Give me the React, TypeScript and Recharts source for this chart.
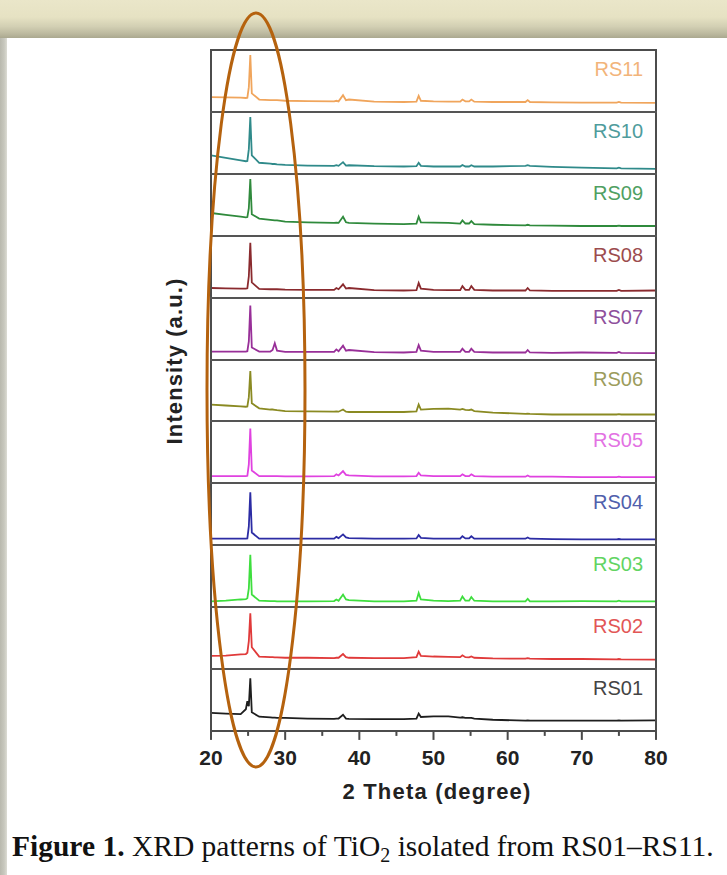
import React from 'react';
import { LineChart, Line, XAxis, YAxis } from 'recharts';

// 2θ sampling positions (degree)
const twoTheta = [
  20, 22, 24, 24.7, 24.9, 25.1, 25.3, 25.5,
  26.5, 28, 28.3, 28.6, 28.9, 30, 33,
  36.6, 36.9, 37.2, 37.8, 38.2, 38.6, 42, 46,
  47.7, 48.0, 48.3, 50, 52, 53.6, 53.9, 54.3, 54.8, 55.1, 55.5,
  58, 62.4, 62.7, 63.0, 66, 70, 74.7, 75.0, 75.3, 80,
];

// normalised intensities (fraction of each panel)
const rs11 = [
  0.24, 0.235, 0.23, 0.225, 0.23, 0.40, 0.92, 0.30,
  0.20, 0.19, 0.19, 0.19, 0.19, 0.18, 0.175,
  0.17, 0.18, 0.17, 0.27, 0.19, 0.20, 0.165, 0.16,
  0.165, 0.26, 0.18, 0.17, 0.165, 0.165, 0.20, 0.17, 0.17, 0.20, 0.165,
  0.16, 0.16, 0.19, 0.16, 0.155, 0.15, 0.15, 0.16, 0.15, 0.145,
];
const rs10 = [
  0.30, 0.26, 0.22, 0.205, 0.21, 0.40, 0.92, 0.30,
  0.18, 0.165, 0.16, 0.16, 0.155, 0.145, 0.135,
  0.13, 0.14, 0.13, 0.19, 0.135, 0.14, 0.125, 0.12,
  0.125, 0.18, 0.13, 0.12, 0.12, 0.12, 0.145, 0.12, 0.12, 0.14, 0.12,
  0.12, 0.13, 0.14, 0.13, 0.115, 0.10, 0.09, 0.10, 0.09, 0.08,
];
const rs09 = [
  0.37, 0.34, 0.31, 0.30, 0.305, 0.45, 0.92, 0.35,
  0.28, 0.26, 0.255, 0.25, 0.25, 0.23, 0.22,
  0.21, 0.215, 0.21, 0.31, 0.22, 0.21, 0.20, 0.19,
  0.20, 0.31, 0.22, 0.215, 0.21, 0.20, 0.25, 0.20, 0.20, 0.24, 0.19,
  0.18, 0.17, 0.18, 0.17, 0.165, 0.16, 0.16, 0.165, 0.16, 0.16,
];
const rs08 = [
  0.16, 0.155, 0.15, 0.15, 0.155, 0.35, 0.89, 0.25,
  0.145, 0.14, 0.14, 0.14, 0.14, 0.135, 0.13,
  0.13, 0.16, 0.14, 0.22, 0.15, 0.16, 0.125, 0.12,
  0.125, 0.24, 0.15, 0.13, 0.125, 0.125, 0.19, 0.13, 0.13, 0.19, 0.13,
  0.12, 0.12, 0.16, 0.12, 0.115, 0.115, 0.115, 0.13, 0.115, 0.12,
];
const rs07 = [
  0.135, 0.135, 0.135, 0.135, 0.14, 0.30, 0.88, 0.20,
  0.135, 0.135, 0.16, 0.27, 0.15, 0.13, 0.13,
  0.13, 0.17, 0.14, 0.23, 0.15, 0.16, 0.125, 0.12,
  0.13, 0.24, 0.15, 0.13, 0.13, 0.13, 0.18, 0.13, 0.13, 0.18, 0.13,
  0.12, 0.12, 0.16, 0.12, 0.115, 0.12, 0.115, 0.13, 0.115, 0.11,
];
const rs06 = [
  0.28, 0.265, 0.25, 0.245, 0.25, 0.40, 0.82, 0.30,
  0.22, 0.20, 0.20, 0.195, 0.19, 0.175, 0.17,
  0.165, 0.17, 0.165, 0.20, 0.165, 0.16, 0.16, 0.16,
  0.17, 0.28, 0.20, 0.21, 0.215, 0.20, 0.21, 0.195, 0.19, 0.20, 0.175,
  0.15, 0.13, 0.135, 0.13, 0.12, 0.12, 0.12, 0.125, 0.12, 0.12,
];
const rs05 = [
  0.11, 0.11, 0.11, 0.11, 0.115, 0.30, 0.88, 0.20,
  0.11, 0.11, 0.11, 0.11, 0.11, 0.105, 0.105,
  0.11, 0.14, 0.12, 0.19, 0.13, 0.12, 0.105, 0.105,
  0.11, 0.165, 0.12, 0.11, 0.11, 0.11, 0.14, 0.11, 0.11, 0.14, 0.11,
  0.10, 0.10, 0.12, 0.10, 0.10, 0.095, 0.095, 0.10, 0.095, 0.095,
];
const rs04 = [
  0.10, 0.10, 0.10, 0.10, 0.105, 0.30, 0.85, 0.20,
  0.10, 0.10, 0.10, 0.10, 0.10, 0.10, 0.10,
  0.10, 0.13, 0.11, 0.17, 0.12, 0.11, 0.10, 0.10,
  0.105, 0.16, 0.115, 0.10, 0.10, 0.10, 0.14, 0.105, 0.105, 0.14, 0.10,
  0.10, 0.10, 0.12, 0.10, 0.095, 0.09, 0.09, 0.095, 0.09, 0.09,
];
const rs03 = [
  0.09, 0.10, 0.12, 0.125, 0.14, 0.30, 0.84, 0.20,
  0.10, 0.095, 0.095, 0.095, 0.09, 0.09, 0.09,
  0.095, 0.12, 0.10, 0.20, 0.12, 0.11, 0.09, 0.09,
  0.10, 0.225, 0.12, 0.10, 0.095, 0.10, 0.17, 0.10, 0.10, 0.16, 0.10,
  0.09, 0.09, 0.13, 0.09, 0.09, 0.095, 0.09, 0.10, 0.09, 0.09,
];
const rs02 = [
  0.21, 0.215, 0.235, 0.24, 0.26, 0.45, 0.90, 0.35,
  0.20, 0.19, 0.19, 0.185, 0.185, 0.18, 0.18,
  0.175, 0.18, 0.18, 0.24, 0.19, 0.18, 0.175, 0.175,
  0.19, 0.28, 0.21, 0.20, 0.195, 0.19, 0.22, 0.19, 0.185, 0.20, 0.18,
  0.17, 0.165, 0.175, 0.165, 0.16, 0.16, 0.155, 0.16, 0.155, 0.15,
];
const rs01 = [
  0.29, 0.28, 0.27, 0.35, 0.48, 0.40, 0.85, 0.30,
  0.23, 0.22, 0.215, 0.215, 0.21, 0.21, 0.20,
  0.195, 0.20, 0.20, 0.26, 0.20, 0.195, 0.19, 0.19,
  0.20, 0.28, 0.225, 0.235, 0.235, 0.215, 0.22, 0.21, 0.21, 0.21, 0.20,
  0.18, 0.165, 0.17, 0.165, 0.165, 0.165, 0.165, 0.17, 0.165, 0.17,
];

const sampleNames = ['RS11', 'RS10', 'RS09', 'RS08', 'RS07', 'RS06', 'RS05', 'RS04', 'RS03', 'RS02', 'RS01'];
const sampleValues = [rs11, rs10, rs09, rs08, rs07, rs06, rs05, rs04, rs03, rs02, rs01];
const xTicks = [20, 25, 30, 35, 40, 45, 50, 55, 60, 65, 70, 75, 80];

// styles
const lineColors = ['#f0a55c', '#2f8a8a', '#2f8a3c', '#8a2a2e', '#982f98', '#8a8a22', '#e042e0', '#2c2ca4', '#3ede3e', '#e03a3a', '#1e1e1e'];
const labelColors = ['#f2b47a', '#4f9c9c', '#4fa062', '#9c4c4e', '#8e509c', '#9c9c5c', '#e372e3', '#5060ac', '#62d462', '#e25656', '#444444'];

const SANS = '"Liberation Sans", Arial, sans-serif';
const PLOT_LEFT = 211;
const PLOT_W = 445;
const PLOT_TOP = 50;
const PLOT_H = 681;
const PANEL_H = PLOT_H / sampleNames.length;
const SIDE = 24;
const AXIS_H = 45;

const AxisTick = (props: any) => {
  const { x, y, payload } = props;
  const v = payload.value as number;
  const major = v % 10 === 0;
  return (
    <g>
      <line x1={x} y1={y} x2={x} y2={y + (major ? 9 : 5)} stroke="#4a4a4a" strokeWidth={2} />
      {major && (
        <text x={x} y={y + 34} textAnchor="middle" fontFamily={SANS} fontWeight="bold" fontSize={21} fill="#222">
          {v}
        </text>
      )}
    </g>
  );
};

function Panel({ idx }: { idx: number }) {
  const values = sampleValues[idx];
  const data = twoTheta.map((t, i) => ({ t, v: values[i] }));
  const last = idx === sampleNames.length - 1;
  return (
    <div style={{ position: 'absolute', left: PLOT_LEFT - SIDE, top: PLOT_TOP + idx * PANEL_H }}>
      <LineChart
        width={PLOT_W + SIDE * 2}
        height={PANEL_H + (last ? AXIS_H : 0)}
        data={data}
        margin={{ top: 0, right: SIDE, bottom: 0, left: SIDE }}
      >
        <XAxis
          dataKey="t"
          type="number"
          domain={[20, 80]}
          allowDataOverflow
          ticks={xTicks}
          hide={!last}
          height={last ? AXIS_H : 0}
          axisLine={false}
          tickLine={false}
          tickSize={0}
          tickMargin={0}
          interval={0}
          tick={<AxisTick />}
        />
        <YAxis type="number" domain={[0, 1]} hide allowDataOverflow />
        <Line
          type="linear"
          dataKey="v"
          stroke={lineColors[idx]}
          strokeWidth={1.8}
          dot={false}
          isAnimationActive={false}
        />
      </LineChart>
    </div>
  );
}

export default function App() {
  return (
    <div style={{ position: 'absolute', left: 0, top: 0, width: 727, height: 875, background: '#ffffff', overflow: 'hidden' }}>
      {/* frame */}
      <div style={{ position: 'absolute', left: 0, top: 0, width: 727, height: 38, background: 'linear-gradient(to bottom, #eae6c9 0%, #e6e2c3 45%, #d2cfb3 70%, #bab79d 90%, #aaa88f 100%)' }} />
      <div style={{ position: 'absolute', left: 0, top: 38, width: 7, height: 837, background: 'linear-gradient(to right, #b9b9ae 0%, #c8c8be 60%, #dcdcd4 100%)' }} />

      {/* y label */}
      <div style={{ position: 'absolute', left: 175, top: 361, width: 0, height: 0 }}>
        <div style={{ position: 'absolute', left: -120, top: -14, width: 240, textAlign: 'center', transform: 'rotate(-90deg)', fontFamily: SANS, fontWeight: 'bold', fontSize: 22, letterSpacing: 1.1, lineHeight: '28px', color: '#222', whiteSpace: 'nowrap' }}>
          Intensity (a.u.)
        </div>
      </div>

      {sampleNames.map((_, i) => (
        <Panel key={i} idx={i} />
      ))}

      {/* panel frame */}
      <div style={{ position: 'absolute', left: PLOT_LEFT - 1, top: PLOT_TOP - 1, width: PLOT_W + 2, height: PLOT_H + 2, border: '2px solid #4c4c4c', boxSizing: 'border-box' }} />
      {sampleNames.slice(1).map((_, i) => (
        <div key={i} style={{ position: 'absolute', left: PLOT_LEFT - 1, top: PLOT_TOP + (i + 1) * PANEL_H - 1, width: PLOT_W + 2, height: 2, background: '#555555' }} />
      ))}

      {/* panel labels */}
      {sampleNames.map((name, i) => (
        <div key={name} style={{ position: 'absolute', left: PLOT_LEFT, top: PLOT_TOP + i * PANEL_H + 8, width: PLOT_W - 13, textAlign: 'right', fontFamily: SANS, fontSize: 20, lineHeight: '22px', color: labelColors[i] }}>
          {name}
        </div>
      ))}

      {/* x title */}
      <div style={{ position: 'absolute', left: 237, top: 778, width: 400, textAlign: 'center', fontFamily: SANS, fontWeight: 'bold', fontSize: 22, letterSpacing: 1.2, lineHeight: '28px', color: '#222' }}>
        2 Theta (degree)
      </div>

      {/* caption */}
      <div style={{ position: 'absolute', left: 12, top: 832, whiteSpace: 'nowrap', fontFamily: '"Liberation Serif", "Times New Roman", serif', fontSize: 29.5, lineHeight: '29px', color: '#111' }}>
        <b>Figure 1.</b> XRD patterns of TiO<span style={{ fontSize: '0.68em', position: 'relative', top: '0.3em' }}>2</span> isolated from RS01–RS11.
      </div>

      {/* annotation ellipse */}
      <svg width={727} height={875} style={{ position: 'absolute', left: 0, top: 0, pointerEvents: 'none' }}>
        <ellipse cx={256} cy={390} rx={49} ry={377} fill="none" stroke="#b5620e" strokeWidth={3} />
      </svg>
    </div>
  );
}
